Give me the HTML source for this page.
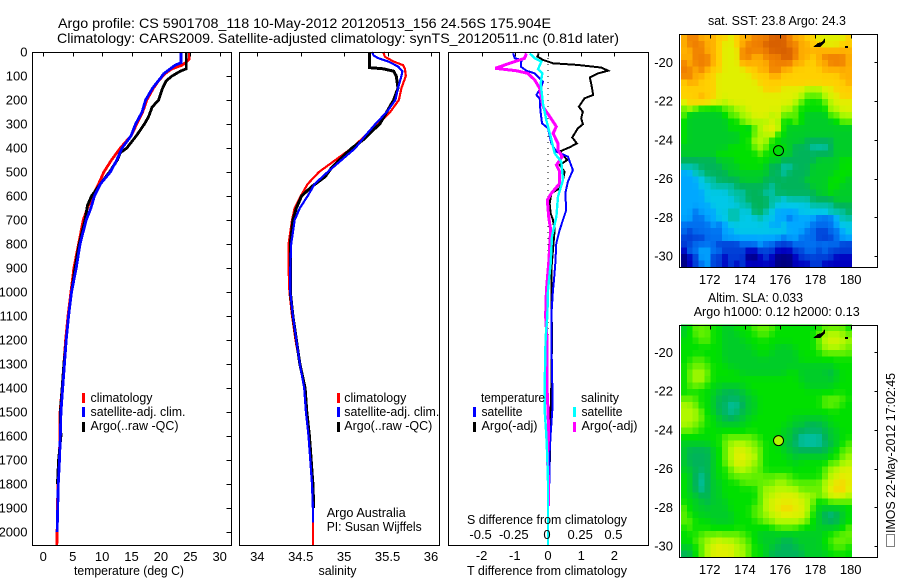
<!DOCTYPE html>
<html>
<head>
<meta charset="utf-8">
<title>Argo profile</title>
<style>
html,body{margin:0;padding:0;background:#fff;}
svg{display:block;}
text{font-family:"Liberation Sans",sans-serif;font-size:13px;fill:#000;}
.title{font-size:14px;}
</style>
</head>
<body>
<svg id="fig" width="900" height="580" viewBox="0 0 900 580" xmlns="http://www.w3.org/2000/svg">
<rect width="900" height="580" fill="#fff"/>
<text class="title" x="58" y="28" textLength="493" lengthAdjust="spacingAndGlyphs">Argo profile: CS 5901708_118 10-May-2012 20120513_156 24.56S 175.904E</text>
<text class="title" x="57" y="43" textLength="562" lengthAdjust="spacingAndGlyphs">Climatology: CARS2009. Satellite-adjusted climatology: synTS_20120511.nc (0.81d later)</text>
<g id="maps"></g>
<g id="panels"></g>

<g>
<text x="74" y="575" textLength="110" lengthAdjust="spacingAndGlyphs">temperature (deg C)</text>
<text x="318.5" y="575" textLength="38" lengthAdjust="spacingAndGlyphs">salinity</text>
<text x="467" y="575" textLength="160" lengthAdjust="spacingAndGlyphs">T difference from climatology</text>
<text x="467" y="524" textLength="160" lengthAdjust="spacingAndGlyphs">S difference from climatology</text>
</g>

<g>
<rect x="82" y="393" width="3" height="10" fill="#f00"/>
<rect x="82" y="407" width="3" height="10" fill="#00f"/>
<rect x="82" y="422" width="3" height="10" fill="#000"/>
<text x="90.5" y="402" textLength="62" lengthAdjust="spacingAndGlyphs">climatology</text>
<text x="90.5" y="416" textLength="95" lengthAdjust="spacingAndGlyphs">satellite-adj. clim.</text>
<text x="90.5" y="430" textLength="88" lengthAdjust="spacingAndGlyphs">Argo(..raw -QC)</text>
</g>
<g>
<rect x="337" y="393" width="3" height="10" fill="#f00"/>
<rect x="337" y="407" width="3" height="10" fill="#00f"/>
<rect x="337" y="422" width="3" height="10" fill="#000"/>
<text x="344.3" y="402" textLength="62" lengthAdjust="spacingAndGlyphs">climatology</text>
<text x="344.3" y="416" textLength="95" lengthAdjust="spacingAndGlyphs">satellite-adj. clim.</text>
<text x="344.3" y="430" textLength="88" lengthAdjust="spacingAndGlyphs">Argo(..raw -QC)</text>
</g>
<g>
<text x="481" y="402" textLength="64" lengthAdjust="spacingAndGlyphs">temperature</text>
<text x="481.5" y="416" textLength="41" lengthAdjust="spacingAndGlyphs">satellite</text>
<text x="481.5" y="430" textLength="56" lengthAdjust="spacingAndGlyphs">Argo(-adj)</text>
<rect x="473" y="407" width="3" height="10" fill="#00f"/>
<rect x="473" y="422" width="3" height="10" fill="#000"/>
<text x="581" y="402" textLength="38" lengthAdjust="spacingAndGlyphs">salinity</text>
<text x="581.5" y="416" textLength="41" lengthAdjust="spacingAndGlyphs">satellite</text>
<text x="581.5" y="430" textLength="56" lengthAdjust="spacingAndGlyphs">Argo(-adj)</text>
<rect x="573" y="407" width="3" height="10" fill="#0ff"/>
<rect x="573" y="422" width="3" height="10" fill="#f0f"/>
</g>
<g>
<text x="326.7" y="517" textLength="79" lengthAdjust="spacingAndGlyphs">Argo Australia</text>
<text x="326.7" y="531" textLength="95" lengthAdjust="spacingAndGlyphs">PI: Susan Wijffels</text>
</g>

<text x="708" y="25" textLength="138" lengthAdjust="spacingAndGlyphs">sat. SST: 23.8  Argo: 24.3</text>
<text x="708" y="302" textLength="95" lengthAdjust="spacingAndGlyphs">Altim. SLA: 0.033</text>
<text x="693.7" y="316" textLength="166" lengthAdjust="spacingAndGlyphs">Argo h1000: 0.12 h2000: 0.13</text>
<g>
<rect x="886.5" y="534.5" width="8" height="12" fill="none" stroke="#000" stroke-dasharray="1 1"/>
<text transform="translate(895,533) rotate(-90)" x="0" y="0" textLength="160" lengthAdjust="spacingAndGlyphs">IMOS 22-May-2012 17:02:45</text>
</g>

<script>
// ---------- profile data ----------
const tempTickLabels = [0,5,10,15,20,25,30];
const salTickLabels = [34,34.5,35,35.5,36];
const diffTickLabels = [-2,-1,0,1,2];
const salDiffTickLabels = ['-0.5','-0.25','0','0.25','0.5'];
const depthTickLabels = [0,100,200,300,400,500,600,700,800,900,1000,1100,1200,1300,1400,1500,1600,1700,1800,1900,2000];

const climTDepth = [0,30,40,55,70,90,120,150,200,250,300,350,400,450,500,550,600,650,700,800,900,1000,1100,1200,1300,1400,1500,1600,1700,1800,1900,2000,2054];
const climTValues = [24.9,24.8,24.4,23.6,21.9,20.7,19.6,18.75,17.6,16.9,15.9,14.9,13.1,11.6,10.3,9.4,8.4,7.5,6.8,6.0,5.2,4.7,4.2,3.8,3.5,3.2,2.85,2.85,2.7,2.5,2.4,2.35,2.3];
const satTDepth = [0,45,55,70,90,110,150,200,250,300,350,400,450,500,550,600,650,700,800,900,1000,1100,1200,1300,1400,1500,1600,1700,1800,1900,2000];
const satTValues = [23.4,23.4,22.4,21.6,20.5,19.9,18.6,17.4,16.8,15.7,14.9,13.4,12.5,11.4,9.7,8.7,8.1,7.3,6.25,5.6,4.8,4.3,3.9,3.6,3.3,3.0,2.9,2.75,2.55,2.45,2.35];
const argoTDepth = [0,70,80,100,120,150,200,230,270,300,350,400,420,450,500,550,600,640,700,800,900,1000,1100,1200,1300,1400,1500,1600,1700,1800];
const argoTValues = [24.3,24.3,23.3,21.9,20.9,20.3,19.6,18.5,17.9,17.2,15.8,14.2,13.1,12.6,11.25,9.7,8.2,7.5,7.1,6.1,5.4,4.8,4.3,3.9,3.5,3.2,2.9,3.0,2.6,2.4];

const climSDepth = [0,20,40,55,70,100,150,200,250,300,350,400,450,500,550,600,650,700,750,800,900,1000,1100,1200,1300,1400,1500,1600,1700,1800,1900,2000,2054];
const climSValues = [35.45,35.47,35.57,35.68,35.70,35.71,35.66,35.63,35.53,35.39,35.24,35.09,34.9,34.71,34.58,34.5,34.43,34.4,34.38,34.36,34.36,34.37,34.4,34.44,34.49,34.54,34.57,34.6,34.61,34.63,34.64,34.64,34.64];
const satSDepth = [0,15,25,40,60,80,100,150,200,250,300,350,400,450,500,550,600,650,700,750,800,900,1000,1100,1200,1300,1400,1500,1600,1700,1800,1900,1960];
const satSValues = [35.32,35.34,35.39,35.51,35.62,35.67,35.66,35.62,35.59,35.49,35.36,35.24,35.13,34.97,34.81,34.66,34.58,34.49,34.43,34.41,34.39,34.38,34.38,34.41,34.45,34.49,34.54,34.56,34.59,34.61,34.63,34.64,34.64];
const argoSDepth = [0,65,70,80,100,150,200,250,300,330,360,400,440,480,520,560,600,650,700,800,900,1000,1100,1200,1300,1400,1500,1600,1700,1800,1900];
const argoSValues = [35.29,35.29,35.45,35.57,35.6,35.62,35.57,35.49,35.41,35.32,35.24,35.09,34.97,34.86,34.78,34.63,34.51,34.45,34.41,34.38,34.38,34.38,34.41,34.45,34.49,34.55,34.57,34.6,34.62,34.64,34.65];

const diffBlackDepth = [6,19,33,47,54,65,78,89,106,138,179,193,228,249,276,301,318,356,381,397,415,450,471,499,533,568,589,631,672,700,742,825,908,992,1192,1392,1492,1592,1692,1792,1892];
const diffBlackT = [-0.28,-0.32,-0.15,0.15,0.90,1.61,1.81,1.51,1.26,1.31,1.36,1.10,0.93,1.05,1.00,1.05,0.90,0.73,0.87,0.65,0.35,0.58,0.35,0.50,0.45,0.35,0.10,0.05,0.08,0.15,0.20,0.15,0.10,0.10,0.12,0.10,0.08,0.05,0.06,0.02,0];
const diffBlueDepth = [6,26,33,61,78,89,124,151,179,193,242,297,318,381,415,436,492,540,589,658,742,797,881,950,992,1100,1192,1392,1492,1592,1692,1792,1892];
const diffBlueT = [-1.05,-1.00,-0.80,-0.82,-0.65,-0.40,-0.15,-0.22,-0.35,-0.25,-0.23,-0.18,0,0.10,0.25,0.60,0.75,0.60,0.52,0.55,0.35,0.25,0.22,0.18,0.15,0.10,0.10,0.13,0.13,0.08,0.04,0.04,0];
const diffMagentaDepth = [6,26,47,68,78,89,117,151,228,269,311,339,381,408,436,471,499,547,589,617,686,742,881,992,1100,1192,1392,1492,1592,1692,1792,1892];
const diffMagentaS = [-0.163,-0.176,-0.289,-0.397,-0.239,-0.151,-0.10,-0.063,-0.038,0.013,0.063,0.038,0.075,0.075,0.106,0.063,0.088,0.088,0.025,-0.005,0.005,0.02,0.005,-0.012,-0.018,-0.008,-0.008,0,0.005,-0.005,0.005,0.005];
const diffCyanDepth = [6,26,40,72,89,131,214,283,353,422,457,533,603,686,769,881,992,1100,1192,1392,1492,1592,1692,1792,1892,1992,2054];
const diffCyanS = [-0.138,-0.10,-0.05,-0.075,-0.043,-0.055,-0.038,-0.013,0.02,0.05,0.10,0.113,0.075,0.063,0.03,0.02,0,-0.005,-0.018,-0.025,-0.025,-0.013,-0.005,0,0,0,0];

// ---------- map data ----------
const lonTickLabels = [172,174,176,178,180];
const latTickLabels = [-20,-22,-24,-26,-28,-30];
const profileLon = 175.904;
const profileLat = -24.56;
const profileSlaLevel = 11;
const gridLonStart = 170.37;
const gridLatStart = -18.56;
const gridStep = 1/3;

const sstLevels = [
[14,15,15,14,14,14,13,13,12,13,14,14,15,15,15,16,16,16,15,14,14,13,13,12,12,12,12,12,13],
[14,15,15,15,14,14,13,12,12,13,14,15,15,15,16,16,16,16,15,15,14,14,13,13,12,12,12,13,13],
[14,14,15,15,14,14,13,12,12,12,15,15,15,15,15,16,16,16,16,15,14,14,14,14,14,14,14,14,14],
[14,14,15,15,15,14,13,12,12,12,15,15,14,14,15,15,15,16,16,15,14,14,13,14,15,15,15,15,14],
[15,14,15,15,15,14,13,12,12,12,14,14,14,14,14,15,15,15,15,14,14,13,13,14,14,15,15,15,14],
[15,15,14,15,14,13,13,12,12,12,12,13,13,14,14,15,15,14,14,13,13,13,13,13,14,14,14,14,14],
[15,15,14,14,13,13,12,12,12,12,12,12,13,13,13,14,14,13,13,13,13,13,13,13,13,13,13,14,14],
[13,14,14,13,13,13,12,12,12,12,12,12,12,13,13,13,13,13,13,13,13,13,13,13,13,13,13,13,14],
[13,13,13,13,13,13,12,12,12,12,12,12,12,12,13,13,13,12,12,12,12,11,11,11,12,12,13,13,13],
[13,13,13,14,13,13,12,12,12,12,12,12,12,12,12,12,12,12,12,12,11,10,10,10,11,12,12,13,13],
[12,13,13,13,13,12,12,11,12,12,12,12,12,12,12,12,12,12,12,11,10,9,9,9,10,11,12,12,12],
[10,11,10,9,9,9,9,10,10,11,11,12,12,12,12,12,12,11,11,10,9,9,9,9,9,11,11,12,12],
[10,8,8,8,8,8,8,9,10,10,11,11,12,12,12,11,12,10,10,10,9,8,8,8,8,10,10,11,11],
[9,8,8,8,8,8,8,8,9,9,10,11,11,11,11,12,11,9,9,10,9,8,8,8,8,8,9,10,10],
[9,8,8,8,8,8,8,8,9,9,9,8,10,11,12,12,12,9,8,8,8,8,8,8,8,8,8,8,8],
[9,8,8,8,8,8,8,8,8,8,9,9,10,11,11,12,9,9,8,8,8,8,8,8,8,8,8,8,8],
[9,8,8,8,8,8,8,8,8,8,9,9,11,11,11,9,9,8,8,8,8,7,7,7,7,7,8,8,8],
[8,8,8,8,8,8,8,8,9,9,9,9,10,11,10,9,9,9,8,7,7,7,6,6,6,7,8,8,8],
[8,8,8,8,8,8,9,9,9,9,9,9,9,10,9,9,9,8,8,7,7,7,7,7,7,7,8,8,8],
[7,7,7,7,7,7,8,8,8,9,9,9,9,9,9,8,8,7,7,7,7,7,7,8,8,8,8,9,9],
[6,6,6,7,7,7,7,8,8,8,9,9,9,9,8,7,7,6,6,7,7,7,8,8,8,8,8,9,9],
[4,4,6,6,7,7,7,7,8,8,8,8,8,8,8,7,7,6,7,7,7,7,8,8,8,8,9,9,9],
[4,4,4,5,6,6,7,7,7,7,8,8,8,8,7,7,7,7,7,7,7,8,8,8,8,9,9,9,8],
[4,4,4,5,5,6,6,6,6,7,7,7,7,7,7,6,7,7,7,7,7,7,8,8,8,9,9,8,8],
[4,4,4,4,5,5,5,5,6,6,6,7,7,7,6,6,7,7,7,7,7,7,7,8,8,9,8,8,8],
[4,4,4,4,5,5,5,5,5,6,6,7,7,7,7,6,6,5,6,6,6,6,7,7,7,7,8,8,8],
[4,4,4,4,4,5,5,5,5,5,6,6,7,7,7,6,5,5,5,5,5,5,6,6,6,6,7,7,7],
[4,4,3,4,4,4,5,5,6,6,5,5,7,7,6,5,4,4,4,4,5,5,5,5,5,6,6,6,7],
[4,4,3,3,4,4,5,5,6,6,5,5,5,6,5,5,4,4,3,4,4,4,4,3,3,3,4,6,6],
[3,3,3,3,3,4,3,4,5,5,5,5,5,5,5,4,4,5,4,4,4,4,3,3,3,3,4,5,5],
[3,2,3,3,3,3,3,4,4,5,5,5,5,5,5,5,5,5,4,4,4,3,3,2,2,3,3,4,5],
[2,2,2,2,3,3,3,4,4,4,4,4,4,4,4,4,4,3,4,4,3,3,3,2,2,2,3,4,4],
[2,2,3,3,3,3,2,2,2,2,3,3,3,4,3,3,2,2,2,3,3,3,3,3,3,3,3,2,2],
[1,3,3,4,4,3,3,2,2,2,2,1,1,2,2,2,1,1,1,2,2,3,3,2,3,2,2,2,2],
[0,1,2,4,4,2,2,1,2,2,2,0,0,1,2,1,0,0,0,1,2,2,2,2,2,2,1,1,1],
[0,1,2,3,4,2,2,1,2,1,2,1,1,1,1,1,0,0,0,1,1,1,2,2,1,1,1,1,1]
];

const slaLevels = [
[8,9,10,10,10,9,9,8,8,9,9,9,10,10,10,10,9,9,9,9,9,9,9,9,10,10,10,10,9],
[8,9,10,10,10,9,9,8,8,8,9,9,9,10,10,9,9,9,9,9,9,9,9,10,11,11,11,11,10],
[9,9,9,10,10,9,9,8,8,8,8,9,9,9,9,9,9,9,9,9,9,9,9,10,11,12,12,11,11],
[9,9,9,9,9,9,9,8,8,8,8,8,9,9,9,9,8,8,8,9,9,9,9,10,11,11,11,11,10],
[9,9,9,9,9,9,9,8,8,8,8,8,8,9,9,8,8,8,8,8,9,9,9,9,10,10,10,10,10],
[9,9,10,10,9,9,9,8,8,8,8,8,8,8,8,8,8,8,8,8,9,9,9,9,9,9,9,9,9],
[9,10,10,10,10,9,9,9,8,8,8,8,8,8,8,8,8,8,8,8,8,8,8,8,8,8,9,9,9],
[9,10,11,11,10,9,9,9,9,9,8,8,8,8,8,8,8,8,9,9,8,8,8,8,8,7,8,9,9],
[9,10,11,11,10,9,9,9,9,9,9,9,9,9,9,9,9,9,9,9,8,8,8,8,8,8,8,9,9],
[9,10,10,10,9,9,8,8,8,8,8,9,9,9,9,9,9,9,9,9,9,8,8,8,8,8,9,9,9],
[9,9,9,9,9,8,8,7,7,7,8,8,9,9,9,9,9,9,9,9,9,9,9,9,9,9,9,9,9],
[10,10,10,9,9,8,7,7,7,7,7,8,8,9,9,9,9,9,9,9,9,9,9,9,10,10,10,10,9],
[11,11,10,9,9,8,7,7,6,6,7,8,8,9,9,9,9,9,9,9,9,9,9,9,10,10,10,9,9],
[11,11,11,10,9,8,7,7,6,7,7,8,8,9,9,9,9,9,9,9,9,9,9,9,9,9,9,9,9],
[11,11,11,10,9,9,8,7,7,7,8,8,9,9,9,9,9,9,9,8,8,8,8,8,8,9,9,9,9],
[11,11,10,10,9,9,8,8,8,8,8,9,9,9,9,9,9,9,8,8,8,7,7,7,8,8,9,9,9],
[10,10,10,9,9,9,9,9,9,9,9,9,9,9,9,9,9,8,8,7,7,7,7,7,7,8,8,9,9],
[9,9,9,9,9,9,9,10,10,10,10,10,10,9,9,9,9,8,8,7,6,6,6,6,7,8,8,9,9],
[8,8,8,8,8,9,9,10,11,11,11,11,10,10,9,9,9,8,7,7,6,6,6,6,7,7,8,9,10],
[8,7,7,7,7,8,9,10,11,12,12,11,11,10,9,9,9,8,8,7,7,7,7,7,7,8,9,10,10],
[8,7,7,7,7,8,9,10,11,12,12,12,11,10,9,9,9,9,8,8,8,8,8,8,8,9,9,10,11],
[8,7,7,7,7,8,9,10,11,12,12,11,11,10,9,9,9,9,9,8,9,9,9,9,9,10,10,11,11],
[8,8,7,7,7,8,9,9,10,11,11,11,10,10,9,9,9,9,9,9,9,9,9,9,10,11,11,12,12],
[9,8,7,6,7,8,9,9,10,10,10,10,10,10,10,10,10,10,10,9,9,9,9,9,10,11,12,12,12],
[9,8,7,6,7,8,8,9,9,9,10,10,10,10,10,10,11,11,10,10,10,10,10,10,11,12,12,13,12],
[9,8,7,6,7,8,8,9,9,9,9,9,9,10,11,11,11,11,11,11,10,10,10,10,11,12,13,13,12],
[9,8,8,7,7,8,8,9,9,9,9,9,9,10,11,11,12,12,12,12,11,11,11,10,11,12,12,12,11],
[9,9,8,8,7,8,8,8,9,9,9,9,9,10,11,12,12,12,12,12,12,11,10,9,9,10,10,10,10],
[10,9,8,8,8,8,8,8,9,9,9,9,10,10,11,12,12,13,13,12,12,11,10,8,8,8,8,8,9],
[10,9,9,8,8,8,8,8,8,9,9,9,10,10,11,11,12,12,12,12,12,11,9,8,7,6,7,8,9],
[10,10,9,9,9,8,8,8,8,9,9,9,9,10,10,11,11,11,11,11,11,10,9,8,7,7,7,8,9],
[9,10,9,9,9,9,9,9,9,9,9,9,9,9,9,9,10,10,10,10,9,9,9,8,8,8,8,9,10],
[9,9,9,10,10,10,10,10,10,10,10,9,9,8,8,8,8,8,8,8,8,8,8,8,9,9,10,10,10],
[9,9,10,10,11,11,12,11,11,11,10,10,9,8,8,8,8,7,7,8,8,8,8,8,9,10,10,10,10],
[8,8,9,10,11,12,12,12,12,11,11,10,9,9,8,8,7,7,7,7,8,8,8,8,9,9,10,10,9],
[7,7,9,10,11,12,12,12,12,11,11,10,9,9,8,7,7,7,7,7,7,8,8,8,8,9,9,9,9]
];

// ---------- helpers ----------
const NS = 'http://www.w3.org/2000/svg';
const panelsG = document.getElementById('panels');
const mapsG = document.getElementById('maps');
function make(tag, attrs, parent) {
  const el = document.createElementNS(NS, tag);
  for (const k in attrs) el.setAttribute(k, attrs[k]);
  parent.appendChild(el);
  return el;
}
function linear(d0, d1, r0, r1) {
  return v => r0 + (v - d0) * (r1 - r0) / (d1 - d0);
}
const depthY = linear(0, 2000, 52, 532);
const tempX = linear(0, 30, 43.3, 219.7);
const salX = linear(34, 36, 257.3, 431);
const diffTX = linear(-2, 2, 481.6, 614.4);
const diffSX = linear(-0.5, 0.5, 481.6, 614.4);

function drawBox(x, y, w, h, name, parent) {
  const el = make('rect', {x: x, y: y, width: w, height: h, fill: 'none', stroke: '#000', 'stroke-width': 1, 'shape-rendering': 'crispEdges'}, parent);
  
  
}
function drawTick(x1, y1, x2, y2, parent) {
  const el = make('line', {x1: x1, y1: y1, x2: x2, y2: y2, stroke: '#000', 'stroke-width': 1, 'shape-rendering': 'crispEdges'}, parent);
  
  
}
function drawLabel(x, y, s, anchor, parent) {
  const el = make('text', {x: x, y: y, 'text-anchor': anchor}, parent);
  el.textContent = s;
  
  
}
function drawSeries(depths, values, xFn, color, name, width) {
  const pts = depths.map((d, i) => xFn(values[i]).toFixed(2) + ',' + depthY(d).toFixed(2)).join(' ');
  const el = make('polyline', {points: pts, fill: 'none', stroke: color, 'stroke-width': width, 'stroke-linejoin': 'miter', 'shape-rendering': 'crispEdges'}, panelsG);
  
  
}

// ---------- panels ----------
drawSeries(climTDepth, climTValues, tempX, '#f00', 'temperature-climatology-line', 2.8);
drawSeries(argoTDepth, argoTValues, tempX, '#000', 'temperature-argo-line', 2.8);
drawSeries(satTDepth, satTValues, tempX, '#00f', 'temperature-satellite-line', 2.8);

drawSeries(climSDepth, climSValues, salX, '#f00', 'salinity-climatology-line', 2.2);
drawSeries(argoSDepth, argoSValues, salX, '#000', 'salinity-argo-line', 3);
drawSeries(satSDepth, satSValues, salX, '#00f', 'salinity-satellite-line', 2.2);

const zeroLine = make('line', {x1: diffTX(0), y1: 52, x2: diffTX(0), y2: 545, stroke: '#000', 'stroke-width': 1, 'stroke-dasharray': '1 5', 'shape-rendering': 'crispEdges'}, panelsG);



drawSeries(diffBlackDepth, diffBlackT, diffTX, '#000', 'difference-t-argo-line', 2);
drawSeries(diffBlueDepth, diffBlueT, diffTX, '#00f', 'difference-t-satellite-line', 2);
drawSeries(diffMagentaDepth, diffMagentaS, diffSX, '#f0f', 'difference-s-argo-line', 3);
drawSeries(diffCyanDepth, diffCyanS, diffSX, '#0ff', 'difference-s-satellite-line', 2.4);

drawBox(32.5, 52.5, 199, 493, 'temperature-plot-frame', panelsG);
drawBox(239.5, 52.5, 200, 493, 'salinity-plot-frame', panelsG);
drawBox(448.5, 52.5, 200, 493, 'difference-plot-frame', panelsG);

depthTickLabels.forEach(d => {
  const y = depthY(d);
  drawTick(226.5, Math.round(y) + 0.5, 231.5, Math.round(y) + 0.5, panelsG);
  drawLabel(27.5, y + 4.5, String(d), 'end', panelsG);
});
tempTickLabels.forEach(t => {
  const x = tempX(t);
  drawTick(Math.round(x) + 0.5, 52.5, Math.round(x) + 0.5, 56.5, panelsG);
  drawLabel(x, 561, String(t), 'middle', panelsG);
});
salTickLabels.forEach(s => {
  const x = salX(s);
  drawTick(Math.round(x) + 0.5, 52.5, Math.round(x) + 0.5, 56.5, panelsG);
  drawLabel(x, 561, String(s), 'middle', panelsG);
});
diffTickLabels.forEach(t => {
  const x = diffTX(t);
  drawTick(Math.round(x) + 0.5, 52.5, Math.round(x) + 0.5, 56.5, panelsG);
  drawLabel(x, 560, String(t), 'middle', panelsG);
});
salDiffTickLabels.forEach(s => {
  drawLabel(diffSX(parseFloat(s)) - 1, 539, s, 'middle', panelsG);
});

// ---------- maps ----------
const colorStops = [
  [0,0,128],[0,0,192],[0,64,216],[0,112,240],[0,168,255],[0,200,232],[0,192,168],
  [0,180,90],[0,205,40],[0,224,0],[96,240,0],[176,248,0],[224,240,0],[255,208,0],
  [255,176,0],[240,128,0],[216,96,0]
];
function levelColor(v) {
  const c = Math.max(0, Math.min(colorStops.length - 1, v));
  const i = Math.min(colorStops.length - 2, Math.floor(c));
  const f = c - i;
  const mix = colorStops[i].map((a, k) => Math.round(a + (colorStops[i + 1][k] - a) * f));
  return 'rgb(' + mix.join(',') + ')';
}
// The estimated levels are whole numbers; a light neighbour blend brings back the gradual shading of the field.
function blended(levels, r, c, selfWeight) {
  const at = (a, b) => (levels[a] && levels[a][b] !== undefined) ? levels[a][b] : levels[r][c];
  const around = (at(r - 1, c) + at(r + 1, c) + at(r, c - 1) + at(r, c + 1)) / 4;
  return selfWeight * levels[r][c] + (1 - selfWeight) * around;
}
const lonX = linear(172, 180, 709.7, 850.7);

function drawMap(levels, latY, frameTop, frameH, name, selfWeight) {
  const g = make('g', {'shape-rendering': 'crispEdges'}, mapsG);
  
  
  levels.forEach((row, r) => {
    row.forEach((v, c) => {
      const lon0 = gridLonStart + c * gridStep;
      const lat0 = gridLatStart - r * gridStep;
      const x0 = lonX(lon0), x1 = lonX(lon0 + gridStep);
      const y0 = latY(lat0), y1 = latY(lat0 - gridStep);
      const cell = make('rect', {x: x0.toFixed(2), y: y0.toFixed(2), width: (x1 - x0 + 0.4).toFixed(2), height: (y1 - y0 + 0.4).toFixed(2), fill: levelColor(blended(levels, r, c, selfWeight))}, g);
      
      
    });
  });
  // coastline specks
  const island = make('polygon', {points: [[813,47],[818,43],[822,42],[825,38],[825,42],[820,47]].map(p => p[0] + ',' + (p[1] - 34 + frameTop)).join(' '), fill: '#000'}, g);
  
  
  const reef = make('rect', {x: 845, y: 46 - 34 + frameTop, width: 3, height: 2, fill: '#000'}, g);
  
  

  drawBox(679.5, frameTop + 0.5, 198, frameH, name + '-frame', mapsG);
  lonTickLabels.forEach(l => {
    const x = lonX(l);
    drawTick(Math.round(x) + 0.5, frameTop + 0.5, Math.round(x) + 0.5, frameTop + 4.5, mapsG);
    drawLabel(x, frameTop + frameH + 17, String(l), 'middle', mapsG);
  });
  latTickLabels.forEach(l => {
    const y = latY(l);
    drawTick(874.5, Math.round(y) + 0.5, 877.5, Math.round(y) + 0.5, mapsG);
    drawLabel(673, y + 4.5, String(l), 'end', mapsG);
  });
}
const sstLatY = linear(-20, -30, 62.3, 256);
const slaLatY = linear(-20, -30, 352.3, 546);
drawMap(sstLevels, sstLatY, 34, 233, 'sst-map', 0.6);
drawMap(slaLevels, slaLatY, 325, 232, 'sla-map', 0.4);

const sstMarker = make('circle', {cx: lonX(profileLon), cy: sstLatY(profileLat), r: 5, fill: 'none', stroke: '#000', 'stroke-width': 1}, mapsG);


const slaMarker = make('circle', {cx: lonX(profileLon), cy: slaLatY(profileLat), r: 5, fill: levelColor(profileSlaLevel), stroke: '#000', 'stroke-width': 1}, mapsG);


</script>
</svg>
</body>
</html>
